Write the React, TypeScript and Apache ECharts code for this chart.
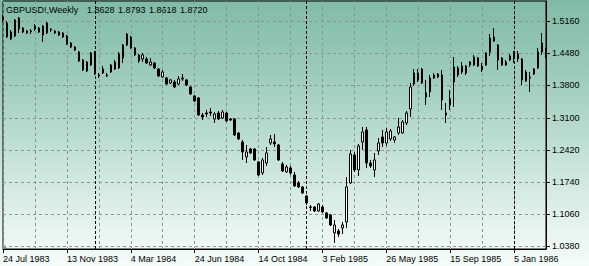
import React, { useEffect, useRef } from "react";
import * as echarts from "echarts";

const START_DATE = "1983-07-24";
const MONTHS = ["Jan", "Feb", "Mar", "Apr", "May", "Jun", "Jul", "Aug", "Sep", "Oct", "Nov", "Dec"];

const opens = [
  1.5245, 1.5117, 1.4926, 1.4841, 1.5224, 1.5011, 1.4948, 1.4948, 1.499, 1.5011,
  1.4863, 1.5117, 1.4969, 1.4948, 1.4926, 1.482, 1.4841, 1.4693, 1.4544, 1.4502,
  1.4332, 1.4098, 1.4225, 1.448, 1.4013, 1.4056, 1.4013, 1.4225, 1.4289, 1.4162,
  1.4374, 1.465, 1.482, 1.4587, 1.4438, 1.4353, 1.4353, 1.4225, 1.4268, 1.414,
  1.3971, 1.3949, 1.3843, 1.3864, 1.3822, 1.3928, 1.3907, 1.3758, 1.3567, 1.3525,
  1.3163, 1.3206, 1.3227, 1.3078, 1.3206, 1.31, 1.3206, 1.3078, 1.3078, 1.2781,
  1.259, 1.2271, 1.2441, 1.2441, 1.2165, 1.1931, 1.2144, 1.2569, 1.259, 1.2526,
  1.2123, 1.1953, 1.2038, 1.1889, 1.1719, 1.1634, 1.1443, 1.1209, 1.1209, 1.1124,
  1.1209, 1.1082, 1.1039, 1.0657, 1.0699, 1.0763, 1.089, 1.1719, 1.2314, 1.1995,
  1.259, 1.2845, 1.2144, 1.1995, 1.2399, 1.2696, 1.2569, 1.2654, 1.2632, 1.2781,
  1.2781, 1.2993, 1.3291, 1.3822, 1.3907, 1.414, 1.3631, 1.3652, 1.3949, 1.3971,
  1.4013, 1.3206, 1.3376, 1.3864, 1.4013, 1.4204, 1.4056, 1.4225, 1.4225, 1.4374,
  1.4119, 1.4225, 1.4502, 1.482, 1.465, 1.4374, 1.4225, 1.4332, 1.4374, 1.4459,
  1.4353, 1.3886, 1.3971, 1.4034, 1.4162, 1.4502, 1.4544,
];

const closes = [
  1.5181, 1.482, 1.4778, 1.5181, 1.499, 1.4926, 1.4905, 1.4937, 1.5054, 1.4926,
  1.5054, 1.4905, 1.499, 1.4905, 1.4863, 1.4905, 1.4671, 1.4608, 1.4608, 1.431,
  1.4119, 1.4289, 1.448, 1.4034, 1.3992, 1.414, 1.3992, 1.4077, 1.414, 1.4459,
  1.465, 1.4884, 1.4587, 1.4438, 1.431, 1.4438, 1.4268, 1.4289, 1.4162, 1.3992,
  1.4077, 1.3822, 1.3907, 1.3758, 1.3928, 1.3949, 1.3801, 1.3609, 1.3461, 1.3163,
  1.3121, 1.3185, 1.3206, 1.3185, 1.3078, 1.3227, 1.3036, 1.3057, 1.2739, 1.2654,
  1.2377, 1.2377, 1.2356, 1.2208, 1.1889, 1.2208, 1.2356, 1.2654, 1.2547, 1.2208,
  1.1974, 1.2059, 1.1931, 1.1655, 1.1634, 1.1507, 1.1294, 1.1199, 1.1124, 1.1273,
  1.1103, 1.0975, 1.0827, 1.0827, 1.0635, 1.0827, 1.1634, 1.2335, 1.1995, 1.2505,
  1.2802, 1.2144, 1.208, 1.2208, 1.2569, 1.2569, 1.2802, 1.2824, 1.2696, 1.2908,
  1.3015, 1.3206, 1.3758, 1.4056, 1.4056, 1.3843, 1.3546, 1.3949, 1.4013, 1.4034,
  1.3482, 1.3163, 1.3503, 1.4183, 1.4162, 1.4077, 1.4204, 1.4289, 1.4395, 1.4204,
  1.4204, 1.448, 1.4799, 1.4735, 1.4332, 1.4225, 1.4289, 1.4417, 1.448, 1.4353,
  1.3907, 1.4077, 1.3949, 1.414, 1.4502, 1.4693, 1.4395,
];

const highs = [
  1.5287, 1.516, 1.4969, 1.5202, 1.5245, 1.5032, 1.4969, 1.499, 1.5096, 1.5032,
  1.5075, 1.5139, 1.5011, 1.4969, 1.4948, 1.4926, 1.4863, 1.4714, 1.4629, 1.4523,
  1.4353, 1.431, 1.4502, 1.4523, 1.4056, 1.4204, 1.4056, 1.4247, 1.4332, 1.4502,
  1.4671, 1.4905, 1.4841, 1.4608, 1.4459, 1.448, 1.4395, 1.4374, 1.4289, 1.4162,
  1.4119, 1.3971, 1.3928, 1.3907, 1.3992, 1.4034, 1.3928, 1.3779, 1.3588, 1.3546,
  1.3206, 1.327, 1.3312, 1.3227, 1.3248, 1.327, 1.3227, 1.31, 1.31, 1.2802,
  1.2632, 1.2526, 1.2462, 1.2462, 1.2186, 1.225, 1.2484, 1.2739, 1.276, 1.2547,
  1.2165, 1.2101, 1.208, 1.1953, 1.1762, 1.1655, 1.1464, 1.1252, 1.123, 1.1294,
  1.1252, 1.1103, 1.106, 1.0933, 1.0742, 1.089, 1.1846, 1.242, 1.2377, 1.2547,
  1.2908, 1.2908, 1.2208, 1.2356, 1.2675, 1.2845, 1.2887, 1.2866, 1.2717, 1.31,
  1.3057, 1.3248, 1.3843, 1.414, 1.414, 1.4162, 1.3907, 1.4013, 1.4056, 1.4056,
  1.4119, 1.3418, 1.3694, 1.4395, 1.4204, 1.4289, 1.4225, 1.431, 1.4438, 1.4395,
  1.4268, 1.4502, 1.4884, 1.5011, 1.4671, 1.4395, 1.4332, 1.4459, 1.4523, 1.4523,
  1.4374, 1.4119, 1.4077, 1.4162, 1.4587, 1.4905, 1.4587,
];

const lows = [
  1.5139, 1.4799, 1.4756, 1.482, 1.4905, 1.4905, 1.4884, 1.4884, 1.4948, 1.4905,
  1.4714, 1.4884, 1.4926, 1.4884, 1.4841, 1.4799, 1.465, 1.4587, 1.4523, 1.4289,
  1.4098, 1.4077, 1.4204, 1.4013, 1.3949, 1.4034, 1.3971, 1.4056, 1.4119, 1.414,
  1.4268, 1.4629, 1.4565, 1.4417, 1.4268, 1.4289, 1.4247, 1.4204, 1.414, 1.3971,
  1.3949, 1.3801, 1.3822, 1.3737, 1.3801, 1.3886, 1.3779, 1.3588, 1.344, 1.3142,
  1.3057, 1.3121, 1.3142, 1.2993, 1.3057, 1.3078, 1.3015, 1.3036, 1.2717, 1.2632,
  1.2208, 1.2144, 1.2335, 1.2186, 1.1868, 1.1889, 1.208, 1.2526, 1.2484, 1.2186,
  1.1953, 1.1931, 1.1889, 1.1634, 1.1613, 1.1485, 1.1252, 1.1124, 1.1103, 1.1103,
  1.1082, 1.0954, 1.0805, 1.0444, 1.0572, 1.0635, 1.0763, 1.1698, 1.1953, 1.1868,
  1.242, 1.2038, 1.2038, 1.1846, 1.2314, 1.2484, 1.2505, 1.2611, 1.2569, 1.2739,
  1.276, 1.2951, 1.3121, 1.3779, 1.3864, 1.3822, 1.3376, 1.3546, 1.3928, 1.3949,
  1.327, 1.2993, 1.327, 1.3333, 1.3971, 1.4034, 1.4013, 1.4183, 1.4204, 1.4183,
  1.4077, 1.4204, 1.4417, 1.4714, 1.4119, 1.4204, 1.4204, 1.431, 1.4268, 1.4289,
  1.3801, 1.3864, 1.3652, 1.4013, 1.414, 1.4438, 1.4374,
];

const yTickValues = [1.038, 1.106, 1.174, 1.242, 1.31, 1.38, 1.448, 1.516];
const yearStarts = ["1 Jan 1984", "6 Jan 1985", "5 Jan 1986"];
const titleSymbol = "GBPUSD!,Weekly";
const titleQuote = ["1.8628", "1.8793", "1.8618", "1.8720"];

function buildCategories(n: number): string[] {
  const out: string[] = [];
  const start = new Date(START_DATE + "T00:00:00Z").getTime();
  for (let i = 0; i < n; i++) {
    const d = new Date(start + i * 7 * 86400000);
    out.push(`${d.getUTCDate()} ${MONTHS[d.getUTCMonth()]} ${d.getUTCFullYear()}`);
  }
  return out;
}

const FONT = '"Liberation Sans", Arial, sans-serif';

export default function App() {
  const ref = useRef<HTMLDivElement>(null);

  useEffect(() => {
    document.body.style.margin = "0";
    if (!ref.current) return;
    const chart = echarts.init(ref.current, null, { renderer: "svg" });
    const categories = buildCategories(opens.length);
    const data = opens.map((o, i) => [o, closes[i], lows[i], highs[i]]);

    const titleGraphics: any[] = [
      {
        type: "text",
        left: 6,
        top: 5,
        style: { text: titleSymbol, font: `9px ${FONT}`, fill: "#000" },
      },
      ...titleQuote.map((q, k) => ({
        type: "text",
        left: 87 + k * 31,
        top: 5,
        style: { text: q, font: `9px ${FONT}`, fill: "#000" },
      })),
      {
        type: "polygon",
        shape: { points: [[434, 2], [441, 2], [437.5, 6]] },
        style: { fill: "#8fb2a8" },
        silent: true,
      },
      {
        type: "polygon",
        shape: { points: [[3, 243], [3, 248], [7, 248]] },
        style: { fill: "#9aa8a4" },
        silent: true,
      },
    ];

    chart.setOption({
      animation: false,
      backgroundColor: "transparent",
      grid: {
        left: 2,
        top: 1,
        width: 544,
        height: 248,
        show: true,
        borderColor: "#000",
        borderWidth: 1,
        backgroundColor: "transparent",
      },
      xAxis: {
        type: "category",
        data: categories,
        boundaryGap: false,
        axisLine: { show: true, lineStyle: { color: "#000", width: 1 } },
        axisTick: {
          show: true,
          interval: (i: number) => i % 16 === 0,
          length: 4,
          lineStyle: { color: "#000" },
        },
        axisLabel: {
          interval: (i: number) => i % 16 === 0,
          align: "left",
          margin: 5,
          color: "#000",
          fontSize: 9,
          fontFamily: FONT,
          hideOverlap: false,
        },
        splitLine: {
          show: true,
          interval: (i: number) => i % 8 === 0,
          lineStyle: { color: "#8a9590", type: [3, 3], width: 1 },
        },
      },
      yAxis: {
        type: "value",
        position: "right",
        min: 1.0316,
        max: 1.5585,
        axisLine: { show: true, lineStyle: { color: "#000", width: 1 } },
        axisTick: {
          show: true,
          length: 4,
          customValues: yTickValues,
          lineStyle: { color: "#000" },
        },
        axisLabel: {
          customValues: yTickValues,
          formatter: (v: number) => v.toFixed(4),
          margin: 6,
          color: "#000",
          fontSize: 9,
          fontFamily: FONT,
        },
        splitLine: {
          show: true,
          lineStyle: { color: "#8a9590", type: [3, 3], width: 1 },
        },
      },
      series: [
        {
          type: "candlestick",
          data,
          barWidth: 2,
          itemStyle: {
            color: "#ffffff",
            color0: "#000000",
            borderColor: "#000000",
            borderColor0: "#000000",
            borderWidth: 1,
          },
          markLine: {
            silent: true,
            symbol: ["none", "none"],
            label: { show: false },
            lineStyle: { color: "#000", type: [3, 2], width: 1 },
            data: yearStarts.map((d) => ({ xAxis: d })),
          },
        },
      ],
      graphic: titleGraphics,
    });

    return () => chart.dispose();
  }, []);

  return (
    <div
      ref={ref}
      style={{
        width: 589,
        height: 266,
        background:
          "linear-gradient(to bottom, #80bba7 0%, #9fcdbd 30%, #c6e3d9 60%, #e6f3ee 85%, #f5fbf9 100%)",
      }}
    />
  );
}
